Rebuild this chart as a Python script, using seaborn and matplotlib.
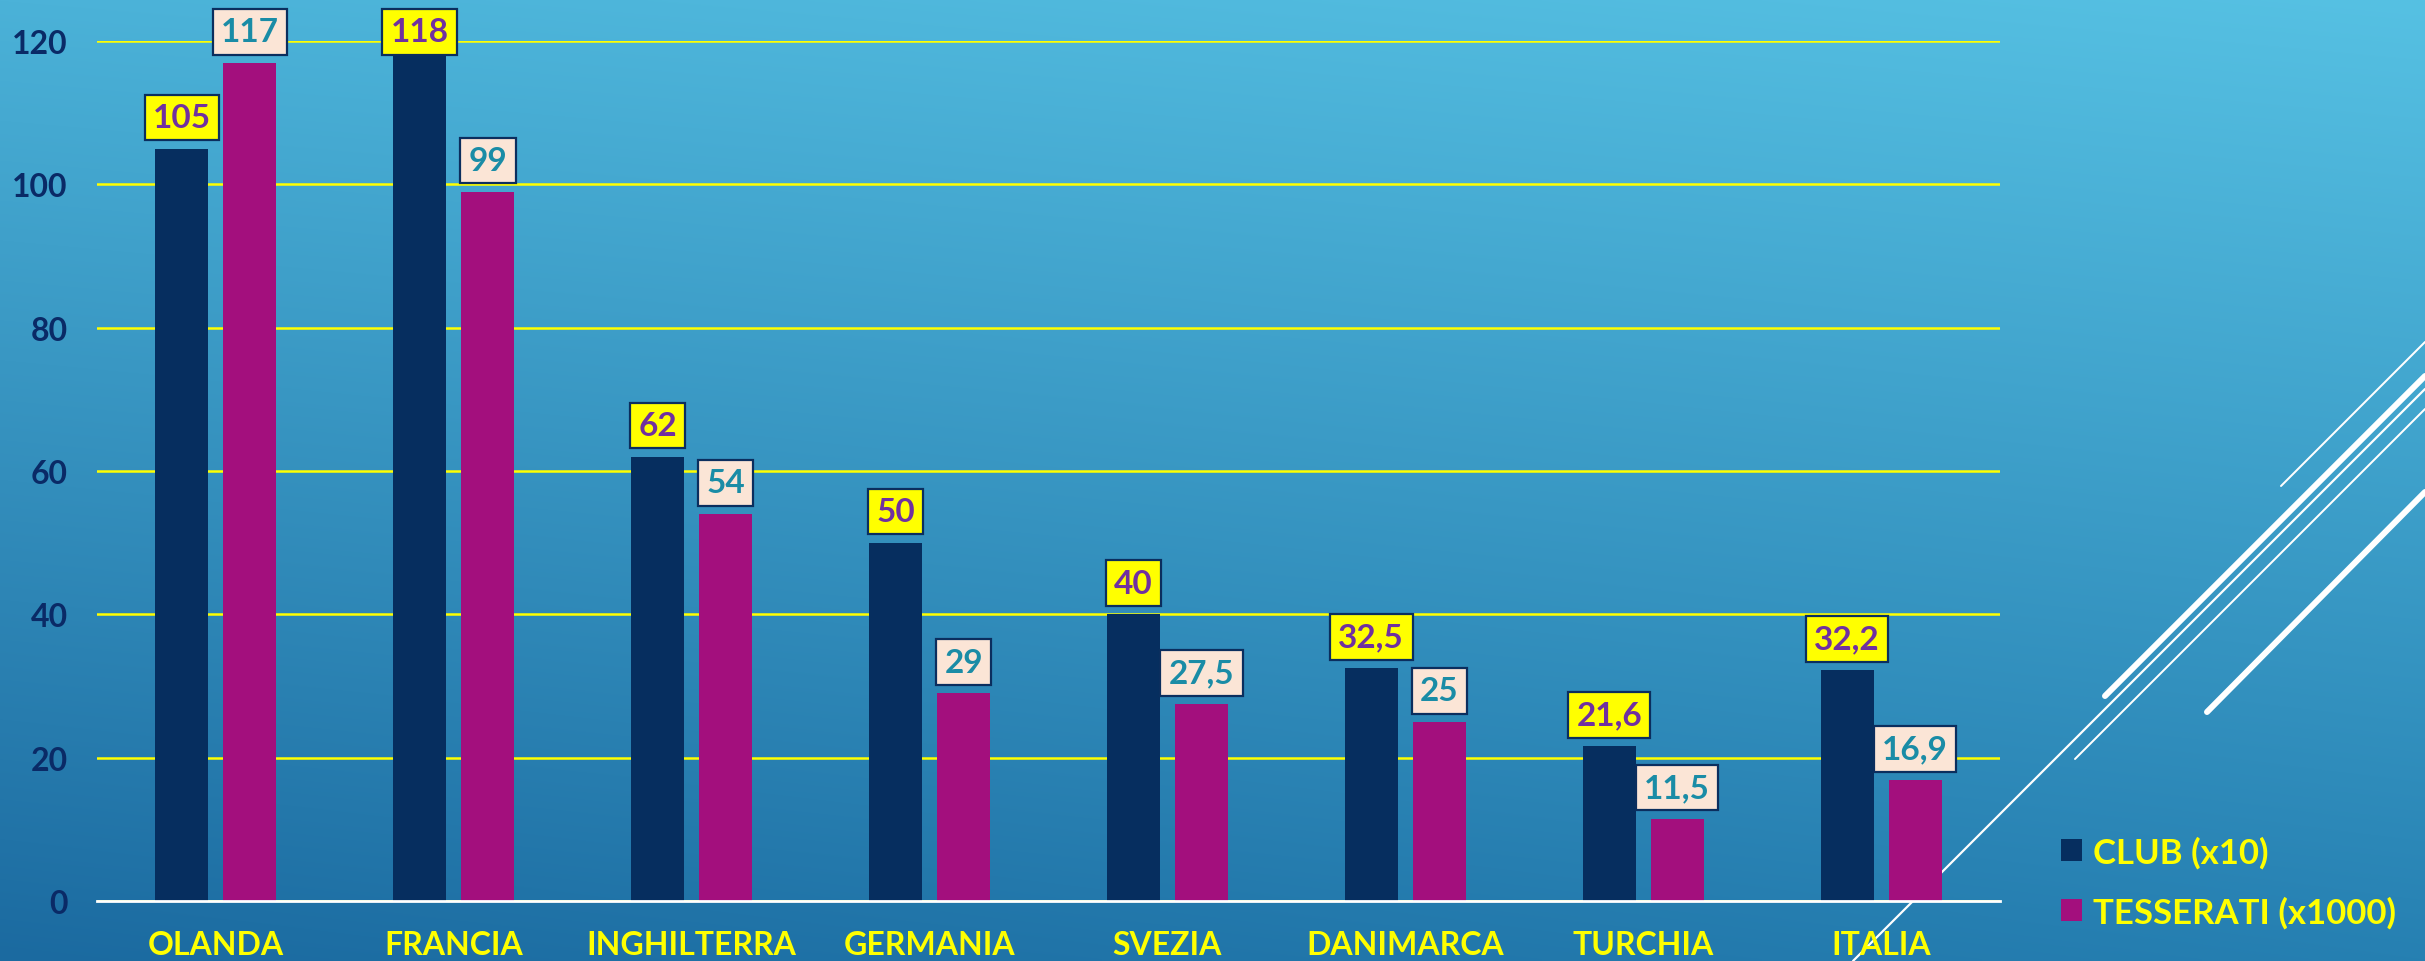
import numpy as np
import pandas as pd
import matplotlib
matplotlib.use("Agg")
import matplotlib.pyplot as plt
import seaborn as sns
from matplotlib.patches import Patch

# ---------------- data ----------------
paesi = ["OLANDA", "FRANCIA", "INGHILTERRA", "GERMANIA", "SVEZIA",
         "DANIMARCA", "TURCHIA", "ITALIA"]
club = [105, 118, 62, 50, 40, 32.5, 21.6, 32.2]
tesserati = [117, 99, 54, 29, 27.5, 25, 11.5, 16.9]
serie = ["CLUB (x10)", "TESSERATI (x1000)"]
y_ticks = [0, 20, 40, 60, 80, 100, 120]

# ---------------- style ----------------
plt.rcParams['font.family'] = ['Lato', 'DejaVu Sans']
plt.rcParams['font.weight'] = 'bold'

W, H = 2425, 962
PX = 100 / 72  # px per point at dpi 100

col_club = "#062E5F"
col_tess = "#A30F7D"
navy_txt = "#0A2A66"
yellow = "#FFFF00"

fig = plt.figure(figsize=(W / 100, H / 100), dpi=100)

# background gradient + decorative lines
bg = fig.add_axes([0, 0, 1, 1], zorder=0)
yy, xx = np.mgrid[0:1:240j, 0:1:480j]
top_l = np.array([75, 178, 216]); top_r = np.array([86, 193, 227])
bot_l = np.array([27, 106, 160]); bot_r = np.array([38, 128, 178])
xx3 = xx[..., None]; yy3 = yy[..., None]
img = ((1 - yy3) * ((1 - xx3) * top_l + xx3 * top_r)
       + yy3 * ((1 - xx3) * bot_l + xx3 * bot_r)) / 255.0
bg.imshow(img, extent=[0, W, H, 0], aspect='auto', interpolation='bilinear')
deco = [((2281, 487), (2425, 343), 2.0),
        ((2105, 697), (2425, 377), 6.0),
        ((1853, 962), (2425, 390), 2.2),
        ((2075, 760), (2425, 410), 2.0),
        ((2207, 713), (2425, 493), 6.0)]
for (x0, y0), (x1, y1), w in deco:
    bg.plot([x0, x1], [y0, y1], color='white', lw=w / PX, solid_capstyle='round')
bg.set_xlim(0, W); bg.set_ylim(H, 0); bg.axis('off')

# chart axes
ax = fig.add_axes([97 / W, 60 / H, 1903 / W, 860 / H], zorder=1)
ax.set_facecolor('none')

df = pd.DataFrame({
    "paese": paesi * 2,
    "valore": club + tesserati,
    "serie": [serie[0]] * len(paesi) + [serie[1]] * len(paesi),
})
sns.barplot(data=df, x="paese", y="valore", hue="serie", order=paesi,
            hue_order=serie, palette={serie[0]: col_club, serie[1]: col_tess},
            width=0.572, gap=0.22, saturation=1, errorbar=None,
            legend=False, linewidth=0, ax=ax)

ax.set_xlim(-0.5, 7.5)
ax.set_ylim(0, 120)
ax.set_yticks(y_ticks)
ax.set_xlabel("")
ax.set_ylabel("")
ax.grid(axis='y', color=yellow, lw=1.8)
ax.grid(axis='x', visible=False)
ax.set_axisbelow(True)
for s in ['left', 'top', 'right']:
    ax.spines[s].set_visible(False)
ax.spines['bottom'].set_color('white')
ax.spines['bottom'].set_linewidth(2.0)
ax.spines['bottom'].set_zorder(3)
ax.tick_params(axis='both', length=0)
ax.tick_params(axis='y', pad=21, labelsize=23, labelcolor=navy_txt)
ax.tick_params(axis='x', pad=21, labelsize=23, labelcolor=yellow)
for lbl in ax.get_xticklabels() + ax.get_yticklabels():
    lbl.set_fontweight('bold')

# data labels
styles = [dict(fc=yellow, tc="#7030A0"), dict(fc="#FBE5D6", tc="#1A8CA6")]
for cont, vals, st in zip(ax.containers, [club, tesserati], styles):
    for bar, v in zip(cont, vals):
        x = bar.get_x() + bar.get_width() / 2
        y = min(v + 4.33, 121.3)
        ax.text(x, y, f"{v:g}".replace('.', ','), ha='center', va='center',
                fontsize=24, fontweight='bold', color=st['tc'], zorder=6,
                clip_on=False,
                bbox=dict(boxstyle='square,pad=0.25', fc=st['fc'],
                          ec="#0B2E5E", lw=1.6))

# legend
handles = [Patch(fc=col_club, ec='none'), Patch(fc=col_tess, ec='none')]
fig.legend(handles, serie, loc='center left',
           bbox_to_anchor=(2061 / W, 1 - 883 / H), frameon=False,
           prop=dict(size=25, weight='bold'), labelcolor=yellow,
           handlelength=0.6, handleheight=0.6, handletextpad=0.32,
           labelspacing=0.8, borderpad=0, borderaxespad=0)

fig.savefig("out.png", dpi=100)
